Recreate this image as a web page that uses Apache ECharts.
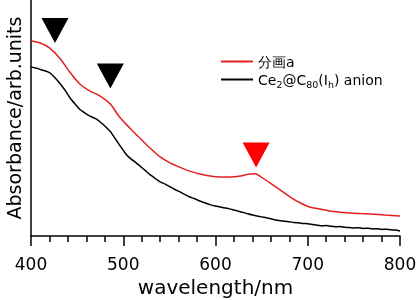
<!DOCTYPE html>
<html>
  <head>
    <meta charset="utf-8" />
    <title>absorbance</title>
    <style>
      html, body { margin: 0; padding: 0; background: #fff; }
    </style>
  </head>
  <body>
    <script type="text/javascript" src="https://cdn.jsdelivr.net/npm/echarts@6/dist/echarts.min.js"></script>

    <div id="container" style="width: 419px;height: 300px;"></div>

    <script type="text/javascript">
    // 吸収スペクトル (arb. units, 0-1 を軸の高さとする)
    var redName = '分画a';
    var blackName = 'Ce2@C80(Ih) anion';

    var redWave = [400, 410, 420, 431, 442, 453, 464, 475, 486, 496, 507, 518, 529, 540, 551, 561, 572, 583, 594, 605,
                   616, 627, 637, 643, 648, 659, 670, 681, 692, 702, 713, 724, 735, 746, 757, 768, 784, 800];
    var redAbs  = [0.826, 0.818, 0.797, 0.754, 0.695, 0.644, 0.614, 0.593, 0.559, 0.504, 0.458, 0.415, 0.373, 0.335, 0.309, 0.292, 0.275, 0.263, 0.254, 0.250,
                   0.250, 0.254, 0.263, 0.264, 0.254, 0.225, 0.195, 0.165, 0.140, 0.123, 0.114, 0.106, 0.101, 0.097, 0.095, 0.093, 0.089, 0.085];

    var blackWave = [400, 405, 410, 415, 420, 425, 431, 437, 442, 448, 453, 459, 464, 470, 475, 480, 486, 491, 497, 502,
                     507, 513, 518, 524, 529, 535, 540, 546, 551, 556, 562, 567, 572, 578, 583, 589, 594, 600, 605, 610,
                     615, 620, 625, 630, 635, 640, 645, 650, 655, 660, 665, 670, 675, 680, 685, 690, 695, 700, 705, 710,
                     715, 720, 725, 730, 735, 740, 745, 750, 755, 760, 765, 770, 775, 780, 785, 790, 795, 800];
    var blackAbs  = [0.716, 0.712, 0.706, 0.700, 0.692, 0.675, 0.648, 0.617, 0.587, 0.558, 0.536, 0.520, 0.508, 0.497, 0.483, 0.466, 0.443, 0.414, 0.380, 0.352,
                     0.331, 0.313, 0.297, 0.277, 0.260, 0.243, 0.229, 0.219, 0.208, 0.197, 0.186, 0.175, 0.165, 0.157, 0.148, 0.140, 0.133, 0.127, 0.123, 0.119,
                     0.115, 0.110, 0.105, 0.100, 0.094, 0.089, 0.085, 0.081, 0.077, 0.073, 0.068, 0.065, 0.062, 0.060, 0.057, 0.056, 0.053, 0.052, 0.049, 0.046,
                     0.043, 0.044, 0.041, 0.039, 0.040, 0.037, 0.036, 0.034, 0.035, 0.032, 0.033, 0.030, 0.031, 0.028, 0.029, 0.026, 0.025, 0.021];

    // 矢印 (▼) の位置
    var blackMarks = [[426, 0.871], [486, 0.678]];
    var redMarks = [[644, 0.343]];

    var xTicks = [400, 500, 600, 700, 800];

    function pairs(xs, ys) {
        var out = [];
        for (var i = 0; i < xs.length; i++) out.push([xs[i], ys[i]]);
        return out;
    }

    var font = 'DejaVu Sans';
    var myChart = echarts.init(document.getElementById('container'));
    var option = {
        animation: false,
        grid: { left: 31, right: 19, top: 0, bottom: 64, outerBoundsMode: 'none', containLabel: false },
        legend: {
            data: [redName, blackName],
            orient: 'vertical',
            left: 216,
            top: 51,
            itemGap: 4,
            itemWidth: 32,
            itemHeight: 2,
            icon: 'rect',
            textStyle: {
                fontFamily: font,
                fontSize: 14,
                color: '#000',
                rich: {
                    n: { fontFamily: font, fontSize: 14, color: '#000', lineHeight: 17, verticalAlign: 'bottom' },
                    s: { fontFamily: font, fontSize: 9.5, color: '#000', lineHeight: 17, verticalAlign: 'bottom', padding: [0, 0, -3, 0] }
                }
            },
            formatter: function (name) {
                if (name === blackName) {
                    return '{n|Ce}{s|2}{n|@C}{s|80}{n|(I}{s|h}{n|) anion}';
                }
                return '{n|' + name + '}';
            }
        },
        xAxis: {
            type: 'value',
            min: xTicks[0],
            max: xTicks[xTicks.length - 1],
            interval: 100,
            name: 'wavelength/nm',
            nameLocation: 'middle',
            nameGap: 43,
            nameTextStyle: { fontFamily: font, fontSize: 20, color: '#000' },
            axisLine: { lineStyle: { color: '#000', width: 1.5 } },
            axisTick: { show: true, inside: false, length: 10, lineStyle: { color: '#000', width: 1.5 } },
            minorTick: { show: true, splitNumber: 5, length: 6, lineStyle: { color: '#000', width: 1.5 } },
            splitLine: { show: false },
            axisLabel: { fontFamily: font, fontSize: 17, color: '#000', margin: 21 }
        },
        yAxis: {
            type: 'value',
            min: 0,
            max: 1,
            name: 'Absorbance/arb.units',
            nameLocation: 'middle',
            nameGap: 5,
            nameTextStyle: { fontFamily: font, fontSize: 19, color: '#000' },
            axisLine: { show: true, lineStyle: { color: '#000', width: 1.5 } },
            axisTick: { show: false },
            axisLabel: { show: false },
            splitLine: { show: false }
        },
        series: [
            {
                name: redName,
                type: 'line',
                data: pairs(redWave, redAbs),
                showSymbol: false,
                smooth: 0.3,
                lineStyle: { color: '#e3201f', width: 1.5 },
                itemStyle: { color: '#e3201f' },
                z: 3
            },
            {
                name: blackName,
                type: 'line',
                data: pairs(blackWave, blackAbs),
                showSymbol: false,
                smooth: 0.15,
                lineStyle: { color: '#000', width: 1.5 },
                itemStyle: { color: '#000' },
                z: 2
            },
            {
                type: 'scatter',
                data: blackMarks,
                symbol: 'triangle',
                symbolRotate: 180,
                symbolSize: [27, 25],
                itemStyle: { color: '#000', opacity: 1 },
                silent: true
            },
            {
                type: 'scatter',
                data: redMarks,
                symbol: 'triangle',
                symbolRotate: 180,
                symbolSize: [27, 25],
                itemStyle: { color: '#ff0000', opacity: 1 },
                silent: true
            }
        ]
    };
    myChart.setOption(option);

    window.addEventListener('resize', myChart.resize);
    </script>
  </body>
</html>
